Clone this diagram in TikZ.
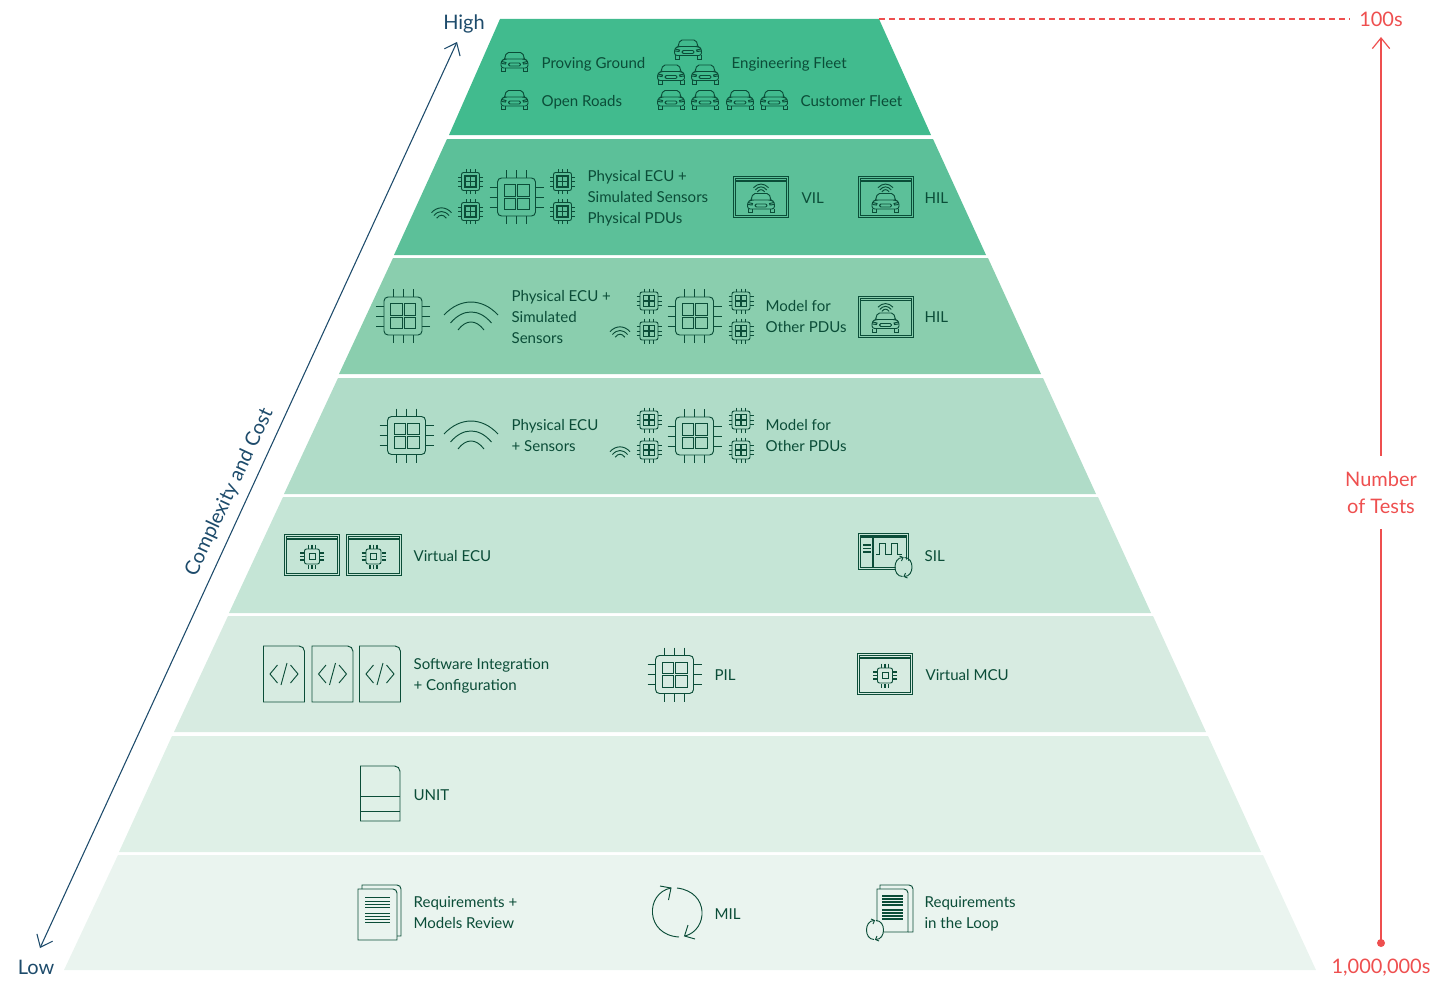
\documentclass[tikz,border=0pt]{standalone}
\usepackage{fontspec}
\setmainfont{Lato}
\usetikzlibrary{arrows.meta}

\definecolor{tierA}{HTML}{41BB8E}
\definecolor{tierB}{HTML}{5CC099}
\definecolor{tierC}{HTML}{8ACEAE}
\definecolor{tierD}{HTML}{B0DCC8}
\definecolor{tierE}{HTML}{C5E5D6}
\definecolor{tierF}{HTML}{D7EBE1}
\definecolor{tierG}{HTML}{DFF0E7}
\definecolor{tierH}{HTML}{EAF4EF}
\definecolor{inkgreen}{HTML}{0B4D38}
\definecolor{inknavy}{HTML}{1D4B6B}
\definecolor{inkred}{HTML}{EE4F4F}

\tikzset{
  every pic/.style={yscale=-1},
  lbl/.style={anchor=west,align=left,inner sep=0pt,text=inkgreen,yshift=-1.7pt,xshift=-0.5pt,
    font=\fontsize{11.3}{15.75}\selectfont,
    execute at begin node=\strut,execute at end node=\strut},
  biglbl/.style={inner sep=0pt,align=center,font=\fontsize{15}{20.25}\selectfont},
  ico/.style={draw=inkgreen,line width=0.7pt},
  thick ico/.style={draw=inkgreen,line width=1.3pt},
  carpic/.pic={
    \draw[ico,rounded corners=1.5pt] (-10,-3) -- (-8,-9.5) -- (8,-9.5) -- (10,-3);
    \draw[ico,rounded corners=2pt] (-13.5,6) -- (-13.5,-1) -- (-10,-3) -- (10,-3) -- (13.5,-1) -- (13.5,6) -- cycle;
    \draw[ico] (-13,6) -- (-13,9.5) -- (-9,9.5) -- (-9,6);
    \draw[ico] (13,6) -- (13,9.5) -- (9,9.5) -- (9,6);
    \draw[ico,rounded corners=1pt] (-6,1) rectangle (6,4);
    \draw[ico] (-13,-0.5) -- (-8.5,0.5) -- (-9,2) -- (-13,1.5);
    \draw[ico] (13,-0.5) -- (8.5,0.5) -- (9,2) -- (13,1.5);
  },
  wavepic/.pic={
    \draw[ico] (-27,-1) .. controls (-11,-18.3) and (11,-18.3) .. (27,-1);
    \draw[ico] (-20.5,7) .. controls (-8,-7.7) and (8,-7.7) .. (20.5,7);
    \draw[ico] (-13,14) .. controls (-5,3.3) and (5,3.3) .. (13,14);
  },
  smallchip/.pic={
    \draw[ico,rounded corners=1.5pt] (-9,-9) rectangle (9,9);
    \draw[thick ico] (-5.5,-5.5) rectangle (5.5,5.5) (0,-5.5) -- (0,5.5) (-5.5,0) -- (5.5,0);
    \draw[ico] (-4.5,-12.5) -- (-4.5,-9) (0,-12.5) -- (0,-9) (4.5,-12.5) -- (4.5,-9);
    \draw[ico] (-4.5,12.5) -- (-4.5,9) (0,12.5) -- (0,9) (4.5,12.5) -- (4.5,9);
    \draw[ico] (-12.5,-4.5) -- (-9,-4.5) (-12.5,0) -- (-9,0) (-12.5,4.5) -- (-9,4.5);
    \draw[ico] (12.5,-4.5) -- (9,-4.5) (12.5,0) -- (9,0) (12.5,4.5) -- (9,4.5);
  },
  bigchip/.pic={
    \draw[ico,rounded corners=3pt] (-19,-19) rectangle (19,19);
    \draw[ico] (-12.5,-12.5) rectangle (-1,-1) (1,-12.5) rectangle (12.5,-1);
    \draw[ico] (-12.5,1) rectangle (-1,12.5) (1,1) rectangle (12.5,12.5);
    \draw[ico] (-10,-27) -- (-10,-19) (0,-27) -- (0,-19) (10,-27) -- (10,-19);
    \draw[ico] (-10,27) -- (-10,19) (0,27) -- (0,19) (10,27) -- (10,19);
    \draw[ico] (-27,-10) -- (-19,-10) (-27,0) -- (-19,0) (-27,10) -- (-19,10);
    \draw[ico] (27,-10) -- (19,-10) (27,0) -- (19,0) (27,10) -- (19,10);
  },
  tinychip/.pic={
    \draw[ico,rounded corners=1.5pt] (-7.5,-7.5) rectangle (7.5,7.5);
    \draw[ico] (-3,-3) rectangle (3,3);
    \draw[thick ico] (-3.5,-12) -- (-3.5,-8) (0,-12) -- (0,-8) (3.5,-12) -- (3.5,-8);
    \draw[thick ico] (-3.5,12) -- (-3.5,8) (0,12) -- (0,8) (3.5,12) -- (3.5,8);
    \draw[thick ico] (-12,-3.5) -- (-8,-3.5) (-12,0) -- (-8,0) (-12,3.5) -- (-8,3.5);
    \draw[thick ico] (12,-3.5) -- (8,-3.5) (12,0) -- (8,0) (12,3.5) -- (8,3.5);
  },
  framepic/.pic={
    \draw[ico] (-27.5,-20.5) rectangle (27.5,20.5);
    \draw[ico] (-25.5,-18.5) rectangle (25.5,18.5);
    \draw[thick ico] (-25.5,-16) -- (25.5,-16);
  },
  carwin/.pic={
    \pic {framepic};
    \pic at (0,6) {carpic};
    \pic[scale=0.28] at (0,-9) {wavepic};
  },
  chipwin/.pic={
    \pic {framepic};
    \pic at (0,1.5) {tinychip};
  },
  codepage/.pic={
    \draw[ico] (-20.5,28) -- (-20.5,-28) [rounded corners=4pt] -- (20.5,-28) [sharp corners] -- (20.5,28) -- cycle;
    \draw[ico] (-6.5,-9) -- (-14,0) -- (-6.5,9);
    \draw[ico] (6.5,-9) -- (14,0) -- (6.5,9);
    \draw[ico] (-3,11) -- (3,-11);
  },
  reloop/.pic={
    \draw[ico] (-1,-9.5) .. controls (-11,-9.5) and (-11,9.5) .. (-1,9.5);
    \draw[ico] (1,-9.5) .. controls (11,-9.5) and (11,9.5) .. (1,9.5);
    \draw[ico] (-4,-11) -- (-0.5,-9.5) -- (-2,-6);
    \draw[ico] (4,11) -- (0.5,9.5) -- (2,6);
  }
}

\begin{document}
\begin{tikzpicture}[x=0.75pt,y=0.75pt,yscale=-1,xscale=1]
\useasboundingbox (0,0) rectangle (1434,981);

%Shape: Tiers
\fill[tierA] (500,19) -- (879,19) -- (931,135) -- (449,135) -- cycle;
\fill[tierB] (447,139) -- (933,139) -- (986,255) -- (394,255) -- cycle;
\fill[tierC] (393,258) -- (988,258) -- (1041,374) -- (339,374) -- cycle;
\fill[tierD] (338,378) -- (1043,378) -- (1096,494) -- (284,494) -- cycle;
\fill[tierE] (283,497) -- (1098,497) -- (1151,613) -- (229,613) -- cycle;
\fill[tierF] (228,616) -- (1153,616) -- (1206,732) -- (174,732) -- cycle;
\fill[tierG] (172,736) -- (1208,736) -- (1261,852) -- (119,852) -- cycle;
\fill[tierH] (118,855) -- (1263,855) -- (1316,970) -- (64,970) -- cycle;

%Proving ground row
\pic at (514.5,62) {carpic};
\pic at (514.5,100) {carpic};
\pic at (688,49.5) {carpic};
\pic at (671,74.5) {carpic};
\pic at (705,74.5) {carpic};
\pic at (671,100) {carpic};
\pic at (705,100) {carpic};
\pic at (740,100) {carpic};
\pic at (774,100) {carpic};

%VIL row
\pic at (470.5,181.5) {smallchip};
\pic at (470.5,211.5) {smallchip};
\pic at (562.5,181.5) {smallchip};
\pic at (562.5,211.5) {smallchip};
\pic at (516.5,197) {bigchip};
\pic[scale=0.37] at (441.5,213) {wavepic};
\pic at (761,197) {carwin};
\pic at (885.5,197) {carwin};

%HIL row
\pic at (403,316) {bigchip};
\pic at (471,316) {wavepic};
\pic at (649,301) {smallchip};
\pic at (649,331) {smallchip};
\pic at (741,301) {smallchip};
\pic at (741,331) {smallchip};
\pic at (694.5,316) {bigchip};
\pic[scale=0.37] at (620,332) {wavepic};
\pic at (885.5,316.5) {carwin};

%Sensors row
\pic at (406.5,435.5) {bigchip};
\pic at (471,435) {wavepic};
\pic at (649,420) {smallchip};
\pic at (649,450) {smallchip};
\pic at (741,420) {smallchip};
\pic at (741,450) {smallchip};
\pic at (694.5,436) {bigchip};
\pic[scale=0.37] at (620,452) {wavepic};

%SIL row
\pic at (312,555) {chipwin};
\pic at (373.5,555) {chipwin};
\draw[ico] (858.5,533.5) rectangle (908,569);
\draw[ico] (860.5,535.5) rectangle (906,567);
\draw[thick ico] (860.5,537) -- (906,537);
\draw[thick ico] (873,537) -- (873,567);
\draw[thick ico] (863,545) -- (871,545) (863,548.5) -- (871,548.5) (863,552) -- (871,552);
\draw[ico] (876,554) -- (879,554) -- (879,543) -- (885,543) -- (885,554) -- (891,554) -- (891,543) -- (897,543) -- (897,554) -- (902,554);
\fill[tierE] (903.5,567) circle [radius=8];
\pic at (903.5,567) {reloop};

%PIL row
\pic at (284,674) {codepage};
\pic at (332.5,674) {codepage};
\pic at (380,674) {codepage};
\pic at (674.5,674.5) {bigchip};
\pic at (885,674) {chipwin};

%UNIT row
\draw[ico] (360.5,821) -- (360.5,766) [rounded corners=4pt] -- (400,766) [sharp corners] -- (400,821) -- cycle;
\draw[ico] (360.5,796) -- (400,796);
\draw[ico] (360.5,811) -- (400,811);

%Requirements row
\draw[ico] (362,889) -- (362,885) [rounded corners=3pt] -- (401,885) [sharp corners] -- (401,936) -- (397,936);
\draw[ico] (358,940) -- (358,889) [rounded corners=3pt] -- (397,889) [sharp corners] -- (397,940) -- cycle;
\draw[ico] (365,897) -- (390,897) (365,901) -- (390,901) (365,904) -- (390,904) (365,907) -- (390,907);
\draw[ico] (365,913) -- (390,913) (365,916) -- (390,916) (365,919) -- (390,919) (365,922) -- (390,922);
\draw[ico] (671,888) .. controls (645,893) and (645,935) .. (679,937);
\draw[ico] (677,888) .. controls (710,892) and (708,930) .. (685,936);
\draw[ico] (660,886) -- (671,888) -- (668.5,900);
\draw[ico] (695,939) -- (684.5,936) -- (688,925);

%Requirements in the loop
\draw[ico] (880,889) -- (880,885) [rounded corners=3pt] -- (913,885) [sharp corners] -- (913,932) -- (908,932);
\draw[ico] (877,932) -- (877,889) [rounded corners=3pt] -- (908,889) [sharp corners] -- (908,932) -- cycle;
\draw[thick ico] (882,896) -- (903,896) (882,899) -- (903,899) (882,902) -- (903,902) (882,905) -- (903,905);
\draw[thick ico] (882,910) -- (903,910) (882,913) -- (903,913) (882,916) -- (903,916) (882,919) -- (903,919);
\fill[tierH] (875,930) circle [radius=9];
\pic at (875,930) {reloop};

% Text Node
\node[lbl] (proving) at (542,62) {Proving Ground};
\node[lbl] (openroads) at (542,100) {Open Roads};
\node[lbl] (engfleet) at (732,62) {Engineering Fleet};
\node[lbl] (custfleet) at (801,100) {Customer Fleet};
\node[lbl] (ecuvil) at (588,198) {Physical ECU +\\Simulated Sensors\\Physical PDUs};
\node[lbl] (vil) at (802,197) {VIL};
\node[lbl] (hilA) at (925,197) {HIL};
\node[lbl] (ecuhil) at (512,317.5) {Physical ECU +\\Simulated\\Sensors};
\node[lbl] (modelA) at (766,317.5) {Model for\\Other PDUs};
\node[lbl] (hilB) at (925,316) {HIL};
\node[lbl] (ecusens) at (512,436) {Physical ECU\\+ Sensors};
\node[lbl] (modelB) at (766,436) {Model for\\Other PDUs};
\node[lbl] (vecu) at (414,555) {Virtual ECU};
\node[lbl] (sil) at (925,555) {SIL};
\node[lbl] (swint) at (414,675.5) {Software Integration\\+ Configuration};
\node[lbl] (pil) at (715,674) {PIL};
\node[lbl] (vmcu) at (926,674) {Virtual MCU};
\node[lbl] (unit) at (414,794) {UNIT};
\node[lbl] (reqrev) at (414,913.5) {Requirements +\\Models Review};
\node[lbl] (mil) at (715,913) {MIL};
\node[lbl] (reqloop) at (925,913.5) {Requirements\\in the Loop};

% Complexity axis
\node[biglbl,text=inknavy] (high) at (464,24) {High};
\node[biglbl,text=inknavy] (low) at (36,967.5) {Low};
\node[biglbl,text=inknavy,rotate=65] (complexity) at (229.5,492) {Complexity and Cost};
\coordinate (lowtip) at (40,948);
\coordinate (hightip) at (457,42);
\draw[inknavy,line width=0.8pt,{Straight Barb[length=8pt,width=13pt]}-{Straight Barb[length=8pt,width=13pt]}] (lowtip) -- (hightip);

% Test count axis
\node[biglbl,text=inkred] (hundreds) at (1381,19) {100s};
\node[biglbl,text=inkred,minimum height=54.75pt] (tests) at (1381,492.5) {Number\\of Tests};
\node[biglbl,text=inkred] (millions) at (1381,967.5) {1,000,000s};
\coordinate (apex) at (879,19);
\coordinate (dashend) at (1350,19);
\coordinate (toptip) at (1381,37);
\coordinate (botdot) at (1381,943);
\draw[inkred,line width=0.9pt,dash pattern=on 4.5pt off 3pt] (apex) -- (dashend);
\draw[inkred,line width=0.9pt,-{Straight Barb[length=8pt,width=13pt]}] (tests.north) -- (toptip);
\draw[inkred,line width=0.9pt] (tests.south) -- (botdot);
\fill[inkred] (botdot) circle [radius=4];

\end{tikzpicture}
\end{document}
